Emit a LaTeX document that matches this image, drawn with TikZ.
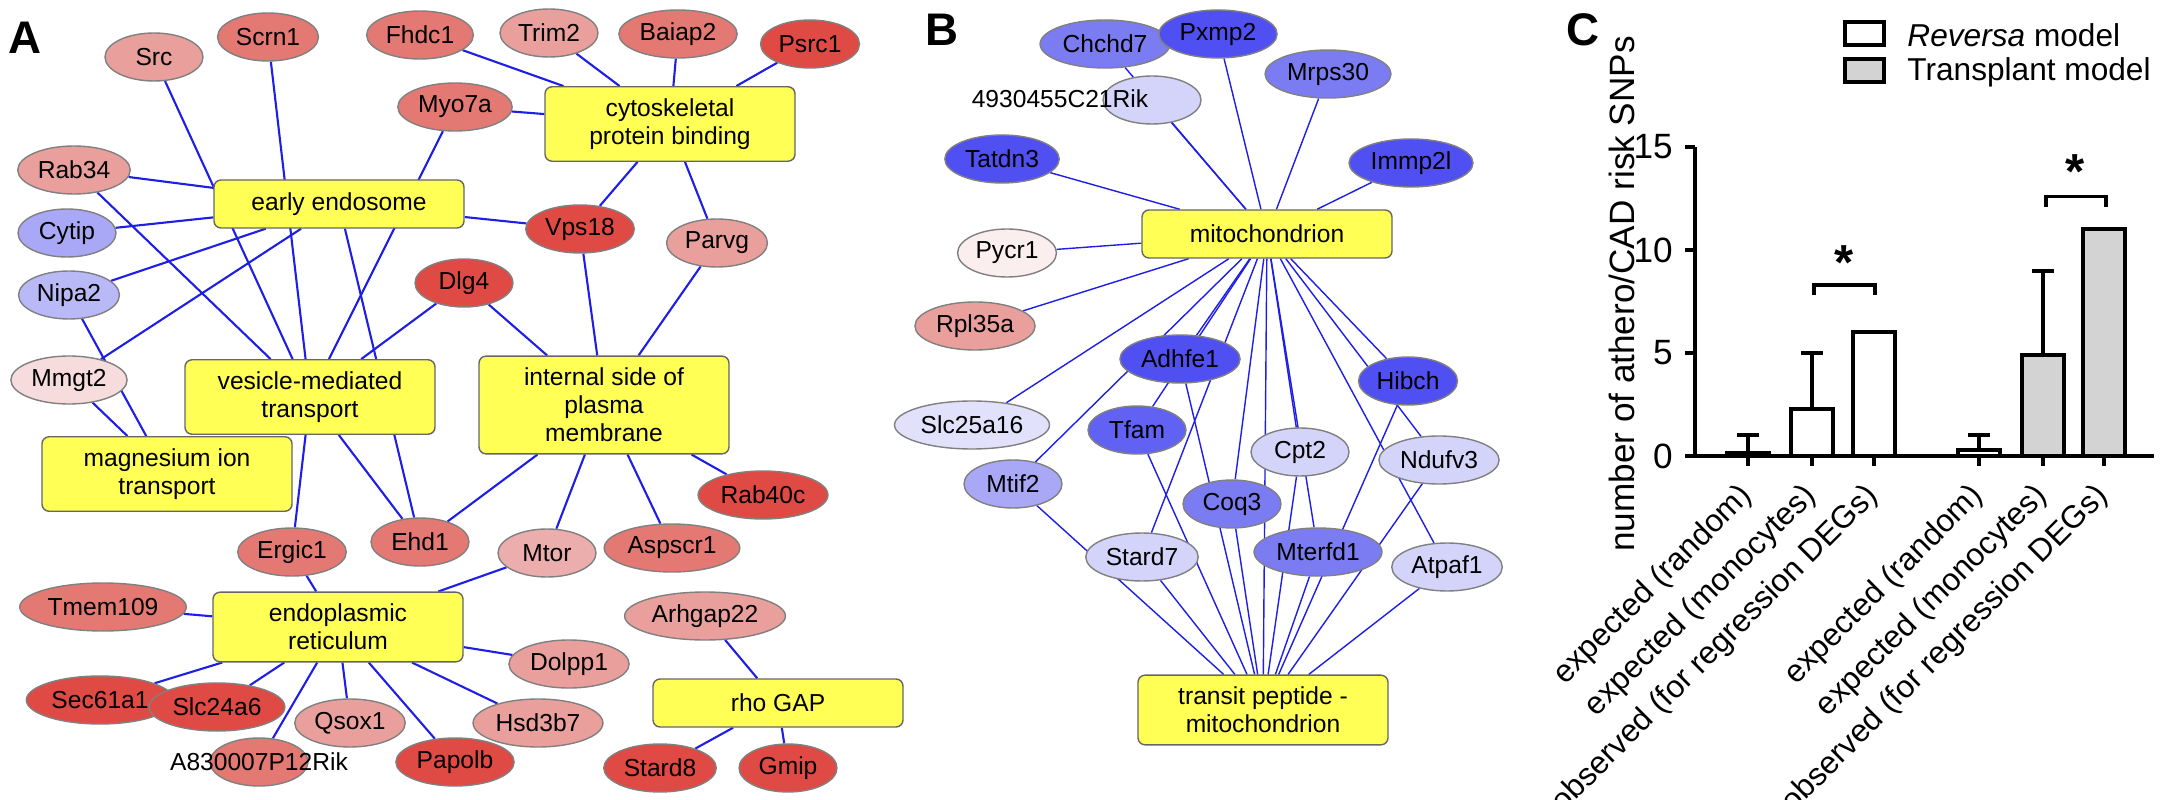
\documentclass[tikz,border=0pt]{standalone}
\usepackage{fontspec}
\setmainfont{Liberation Sans}
\usetikzlibrary{backgrounds,shapes.geometric}

\definecolor{redA}{HTML}{E9A09D}
\definecolor{redB}{HTML}{E47973}
\definecolor{redC}{HTML}{E04A44}
\definecolor{pinkA}{HTML}{F6DCDC}
\definecolor{blueA}{HTML}{5050F2}
\definecolor{blueB}{HTML}{7C7CF2}
\definecolor{blueC}{HTML}{A8A8F6}
\definecolor{blueD}{HTML}{D4D4FA}
\definecolor{goyel}{HTML}{FFFF55}
\definecolor{barg}{HTML}{D3D3D3}

\tikzset{
  gene/.style={ellipse, draw=gray, minimum width=0.98cm, minimum height=0.48cm,
    inner sep=1pt, font=\fontsize{7}{8}\selectfont},
  term/.style={rectangle, rounded corners=2pt, draw=gray!80!black, fill=goyel,
    minimum width=2.5cm, minimum height=0.48cm, align=center,
    font=\fontsize{7}{8}\selectfont},
  link/.style={draw={rgb,255:red,30;green,30;blue,230}, line width=0.6pt},
  thin link/.style={draw={rgb,255:red,30;green,30;blue,230}, line width=0.4pt},
  panel/.style={font=\bfseries\fontsize{13}{14}\selectfont},
  axis/.style={line width=1.2pt},
  bar/.style={draw, line width=1.1pt}
}

\begin{document}
\begin{tikzpicture}
\useasboundingbox (0,0) rectangle (21.6,-8);

% panel A
\node[panel] at (0.25,-0.38) {A};
\node[term] (cyto) at (6.70,-1.24) {cytoskeletal\\protein binding};
\node[term] (early) at (3.39,-2.04) {early endosome};
\node[term] (vesic) at (3.10,-3.97) {vesicle-mediated\\transport};
\node[term, minimum height=0.82cm] (inner) at (6.04,-4.05) {internal side of\\plasma\\membrane};
\node[term] (magn) at (1.67,-4.74) {magnesium ion\\transport};
\node[term] (er) at (3.38,-6.27) {endoplasmic\\reticulum};
\node[term] (rho) at (7.78,-7.03) {rho GAP};

\node[gene, fill=redA] (src) at (1.54,-0.57) {Src};
\node[gene, fill=redB] (scrn1) at (2.68,-0.37) {Scrn1};
\node[gene, fill=redB] (fhdc1) at (4.20,-0.35) {Fhdc1};
\node[gene, fill=redA] (trim2) at (5.49,-0.33) {Trim2};
\node[gene, fill=redB] (baiap2) at (6.78,-0.34) {Baiap2};
\node[gene, fill=redC] (psrc1) at (8.10,-0.44) {Psrc1};
\node[gene, fill=redB] (myo7a) at (4.55,-1.07) {Myo7a};
\node[gene, fill=redA] (rab34) at (0.74,-1.70) {Rab34};
\node[gene, fill=blueC] (cytip) at (0.67,-2.33) {Cytip};
\node[gene, fill=redC] (vps18) at (5.80,-2.29) {Vps18};
\node[gene, fill=redA] (parvg) at (7.17,-2.43) {Parvg};
\node[gene, fill=blueC!80!white] (nipa2) at (0.69,-2.95) {Nipa2};
\node[gene, fill=redC] (dlg4) at (4.64,-2.83) {Dlg4};
\node[gene, fill=pinkA] (mmgt2) at (0.69,-3.80) {Mmgt2};
\node[gene, fill=redB] (ergic1) at (2.92,-5.52) {Ergic1};
\node[gene, fill=redB] (ehd1) at (4.20,-5.42) {Ehd1};
\node[gene, fill=redA!85!white] (mtor) at (5.47,-5.53) {Mtor};
\node[gene, fill=redB] (aspscr1) at (6.72,-5.48) {Aspscr1};
\node[gene, fill=redC] (rab40c) at (7.63,-4.95) {Rab40c};
\node[gene, fill=redB] (tmem109) at (1.03,-6.07) {Tmem109};
\node[gene, fill=redA] (dolpp1) at (5.69,-6.64) {Dolpp1};
\node[gene, fill=redA] (arhgap22) at (7.05,-6.16) {Arhgap22};
\node[gene, fill=redC] (sec61a1) at (1.00,-7.00) {Sec61a1};
\node[gene, fill=redC] (slc24a6) at (2.17,-7.07) {Slc24a6};
\node[gene, fill=redA] (qsox1) at (3.50,-7.23) {Qsox1};
\node[gene, fill=redA] (hsd3b7) at (5.38,-7.23) {Hsd3b7};
\node[gene, fill=redB] (a830) at (2.59,-7.62) {};
\node[font=\fontsize{7}{8}\selectfont] at (a830) {A830007P12Rik};
\node[gene, fill=redC] (papolb) at (4.55,-7.62) {Papolb};
\node[gene, fill=redC] (stard8) at (6.60,-7.68) {Stard8};
\node[gene, fill=redC] (gmip) at (7.88,-7.68) {Gmip};

\begin{pgfonlayer}{background}
\foreach \g in {myo7a,fhdc1,trim2,baiap2,psrc1,vps18,parvg}
  \draw[link] (cyto) -- (\g);
\foreach \g in {rab34,cytip,nipa2,mmgt2,vps18,ehd1}
  \draw[link] (early) -- (\g);
\foreach \g in {src,scrn1,myo7a,rab34,dlg4,ergic1,ehd1}
  \draw[link] (vesic) -- (\g);
\foreach \g in {dlg4,vps18,parvg,ehd1,mtor,aspscr1,rab40c}
  \draw[link] (inner) -- (\g);
\foreach \g in {nipa2,mmgt2}
  \draw[link] (magn) -- (\g);
\foreach \g in {ergic1,mtor,tmem109,sec61a1,slc24a6,a830,qsox1,papolb,hsd3b7,dolpp1}
  \draw[link] (er) -- (\g);
\foreach \g in {arhgap22,stard8,gmip}
  \draw[link] (rho) -- (\g);
\end{pgfonlayer}

% panel B
\node[panel] at (9.42,-0.30) {B};
\node[term] (mito) at (12.67,-2.34) {mitochondrion};
\node[term] (trans) at (12.63,-7.10) {transit peptide -\\mitochondrion};

\node[gene, fill=blueB] (chchd7) at (11.05,-0.44) {Chchd7};
\node[gene, fill=blueA] (pxmp2) at (12.18,-0.34) {Pxmp2};
\node[gene, fill=blueD] (rik49) at (11.52,-1.00) {};
\node[font=\fontsize{7}{8}\selectfont] at (10.60,-0.99) {4930455C21Rik};
\node[gene, fill=blueB] (mrps30) at (13.28,-0.74) {Mrps30};
\node[gene, fill=blueA] (tatdn3) at (10.02,-1.59) {Tatdn3};
\node[gene, fill=blueA] (immp2l) at (14.11,-1.63) {Immp2l};
\node[gene, fill={rgb,255:red,250;green,238;blue,238}] (pycr1) at (10.07,-2.53) {Pycr1};
\node[gene, fill=redA] (rpl35a) at (9.75,-3.26) {Rpl35a};
\node[gene, fill=blueA] (adhfe1) at (11.80,-3.59) {Adhfe1};
\node[gene, fill=blueA] (hibch) at (14.08,-3.81) {Hibch};
\node[gene, fill=blueD!70!white] (slc25a16) at (9.72,-4.25) {Slc25a16};
\node[gene, fill=blueA!90!white] (tfam) at (11.37,-4.30) {Tfam};
\node[gene, fill=blueD] (cpt2) at (13.00,-4.52) {Cpt2};
\node[gene, fill=blueD] (ndufv3) at (14.39,-4.60) {Ndufv3};
\node[gene, fill=blueC] (mtif2) at (10.13,-4.84) {Mtif2};
\node[gene, fill=blueB] (coq3) at (12.32,-5.04) {Coq3};
\node[gene, fill=blueD] (stard7) at (11.42,-5.57) {Stard7};
\node[gene, fill=blueB] (mterfd1) at (13.18,-5.52) {Mterfd1};
\node[gene, fill=blueD] (atpaf1) at (14.47,-5.67) {Atpaf1};

\begin{pgfonlayer}{background}
\foreach \g in {chchd7,pxmp2,rik49,mrps30,tatdn3,immp2l,pycr1,rpl35a,slc25a16,
    adhfe1,hibch,tfam,cpt2,ndufv3,mtif2,coq3,stard7,mterfd1,atpaf1,trans}
  \draw[thin link] (mito) -- (\g);
\foreach \g in {adhfe1,hibch,tfam,cpt2,ndufv3,mtif2,coq3,stard7,mterfd1,atpaf1}
  \draw[thin link] (trans) -- (\g);
\end{pgfonlayer}

% panel C
\node[panel] at (15.83,-0.30) {C};
\node[draw, line width=1pt, minimum width=0.39cm, minimum height=0.23cm] (legR) at (18.645,-0.335) {};
\node[draw, line width=1pt, fill=barg, minimum width=0.39cm, minimum height=0.23cm] (legT) at (18.645,-0.705) {};
\node[anchor=west, font=\fontsize{9}{10}\selectfont] at (18.95,-0.35) {\textit{Reversa} model};
\node[anchor=west, font=\fontsize{9}{10}\selectfont] at (18.95,-0.72) {Transplant model};

\begin{scope}[y=0.206cm, shift={(0cm,-4.56cm)}]
  \foreach \x/\v/\e/\c in {17.48/0.15/1/white, 18.12/2.3/5/white, 18.74/6/0/white,
      19.79/0.3/1/white, 20.43/4.9/9/barg, 21.04/11/0/barg} {
    \ifdim \e pt>0pt
      \draw[line width=1.1pt] (\x,\v) -- (\x,\e) (\x-0.11,\e) -- (\x+0.11,\e);
    \fi
    \filldraw[bar, fill=\c] (\x-0.21,0) rectangle (\x+0.21,\v);
    \draw[axis] (\x,0) -- (\x,-0.5);
  }
  \draw[axis] (16.95,15) -- (16.95,0) -- (21.54,0);
  \foreach \t in {0,5,10,15} {
    \draw[axis] (16.95,\t) -- (16.85,\t);
    \node[anchor=east, font=\fontsize{10}{11}\selectfont] at (16.85,\t) {\t};
  }
  % brackets
  \draw[line width=1.1pt] (18.14,7.8) -- (18.14,8.3) -- (18.75,8.3) -- (18.75,7.8);
  \node[font=\bfseries\fontsize{14}{14}\selectfont] at (18.44,9.4) {*};
  \draw[line width=1.1pt] (20.46,12.1) -- (20.46,12.6) -- (21.06,12.6) -- (21.06,12.1);
  \node[font=\bfseries\fontsize{14}{14}\selectfont] at (20.75,13.8) {*};
  \foreach \x/\s in {17.48/expected (random), 18.12/expected (monocytes),
      18.74/observed (for regression DEGs), 19.79/expected (random),
      20.43/expected (monocytes), 21.04/observed (for regression DEGs)}
    \node[anchor=east, rotate=45, font=\fontsize{9}{10}\selectfont] at (\x+0.08,-1.3) {\s};
\end{scope}
\node[rotate=90, font=\fontsize{10}{11}\selectfont] at (16.22,-2.94) {number of athero/CAD risk SNPs};
\end{tikzpicture}
\end{document}
